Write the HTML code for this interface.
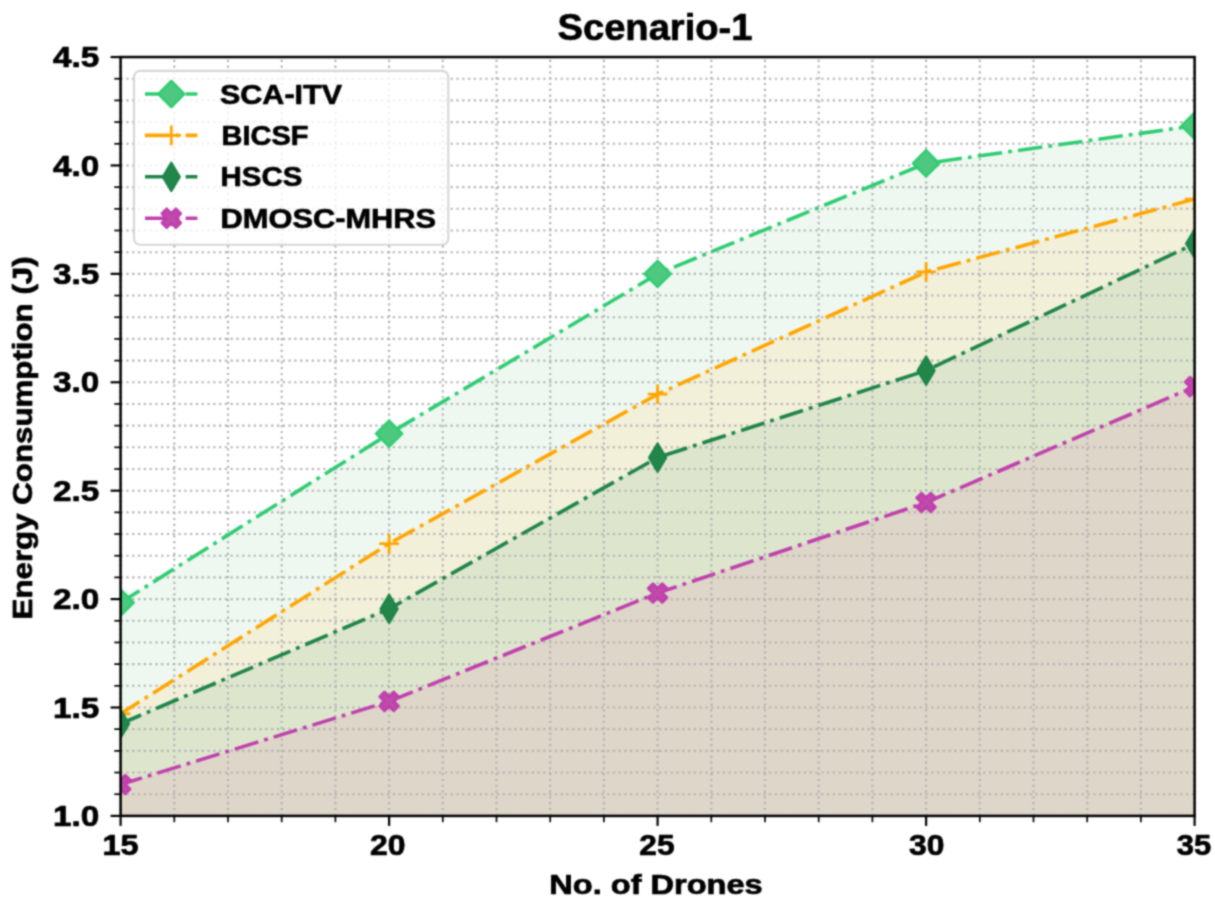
<!DOCTYPE html>
<html><head><meta charset="utf-8"><title>Scenario-1</title>
<style>html,body{margin:0;padding:0;background:#fff;overflow:hidden;}svg{display:block;}</style>
</head><body>
<svg width="1215" height="904" viewBox="0 0 1215 904">
<defs><filter id="bl" filterUnits="userSpaceOnUse" x="0" y="0" width="1215" height="904" color-interpolation-filters="sRGB"><feConvolveMatrix order="5" kernelMatrix="0.00023 0.00332 0.00809 0.00332 0.00023 0.00332 0.04785 0.11640 0.04785 0.00332 0.00809 0.11640 0.28313 0.11640 0.00809 0.00332 0.04785 0.11640 0.04785 0.00332 0.00023 0.00332 0.00809 0.00332 0.00023" edgeMode="duplicate"/></filter><clipPath id="ax"><rect x="120.6" y="57.05" width="1074" height="758.85"/></clipPath></defs>
<g filter="url(#bl)">
<rect width="1215" height="904" fill="#fff"/>
<g clip-path="url(#ax)">
<path d="M120.6,820.9 L120.6,602.55 L389.1,433.66 L657.6,273.86 L926.1,163.29 L1194.6,125.78 L1194.6,820.9 Z" fill="#eef8f0"/>
<path d="M120.6,820.9 L120.6,713.78 L389.1,543.58 L657.6,394.2 L926.1,271.91 L1194.6,199.06 L1194.6,820.9 Z" fill="#f2f0d9"/>
<path d="M120.6,820.9 L120.6,723.75 L389.1,608.84 L657.6,457.51 L926.1,370.56 L1194.6,243.73 L1194.6,820.9 Z" fill="#dde6cd"/>
<path d="M120.6,820.9 L120.6,784.46 L389.1,701.42 L657.6,593.01 L926.1,502.49 L1194.6,386.61 L1194.6,820.9 Z" fill="#ded6c8"/>
</g>
<g stroke="#b2b2b2" stroke-width="2.1" stroke-dasharray="2.2 3.6" fill="none">
<line x1="120.6" y1="815.9" x2="120.6" y2="57.05"/>
<line x1="174.3" y1="815.9" x2="174.3" y2="57.05"/>
<line x1="228" y1="815.9" x2="228" y2="57.05"/>
<line x1="281.7" y1="815.9" x2="281.7" y2="57.05"/>
<line x1="335.4" y1="815.9" x2="335.4" y2="57.05"/>
<line x1="389.1" y1="815.9" x2="389.1" y2="57.05"/>
<line x1="442.8" y1="815.9" x2="442.8" y2="57.05"/>
<line x1="496.5" y1="815.9" x2="496.5" y2="57.05"/>
<line x1="550.2" y1="815.9" x2="550.2" y2="57.05"/>
<line x1="603.9" y1="815.9" x2="603.9" y2="57.05"/>
<line x1="657.6" y1="815.9" x2="657.6" y2="57.05"/>
<line x1="711.3" y1="815.9" x2="711.3" y2="57.05"/>
<line x1="765" y1="815.9" x2="765" y2="57.05"/>
<line x1="818.7" y1="815.9" x2="818.7" y2="57.05"/>
<line x1="872.4" y1="815.9" x2="872.4" y2="57.05"/>
<line x1="926.1" y1="815.9" x2="926.1" y2="57.05"/>
<line x1="979.8" y1="815.9" x2="979.8" y2="57.05"/>
<line x1="1033.5" y1="815.9" x2="1033.5" y2="57.05"/>
<line x1="1087.2" y1="815.9" x2="1087.2" y2="57.05"/>
<line x1="1140.9" y1="815.9" x2="1140.9" y2="57.05"/>
<line x1="1194.6" y1="815.9" x2="1194.6" y2="57.05"/>
<line x1="120.6" y1="815.9" x2="1194.6" y2="815.9" stroke-dasharray="2.2 3.59"/>
<line x1="120.6" y1="794.22" x2="1194.6" y2="794.22" stroke-dasharray="2.2 3.59"/>
<line x1="120.6" y1="772.54" x2="1194.6" y2="772.54" stroke-dasharray="2.2 3.59"/>
<line x1="120.6" y1="750.86" x2="1194.6" y2="750.86" stroke-dasharray="2.2 3.59"/>
<line x1="120.6" y1="729.17" x2="1194.6" y2="729.17" stroke-dasharray="2.2 3.59"/>
<line x1="120.6" y1="707.49" x2="1194.6" y2="707.49" stroke-dasharray="2.2 3.59"/>
<line x1="120.6" y1="685.81" x2="1194.6" y2="685.81" stroke-dasharray="2.2 3.59"/>
<line x1="120.6" y1="664.13" x2="1194.6" y2="664.13" stroke-dasharray="2.2 3.59"/>
<line x1="120.6" y1="642.45" x2="1194.6" y2="642.45" stroke-dasharray="2.2 3.59"/>
<line x1="120.6" y1="620.77" x2="1194.6" y2="620.77" stroke-dasharray="2.2 3.59"/>
<line x1="120.6" y1="599.09" x2="1194.6" y2="599.09" stroke-dasharray="2.2 3.59"/>
<line x1="120.6" y1="577.4" x2="1194.6" y2="577.4" stroke-dasharray="2.2 3.59"/>
<line x1="120.6" y1="555.72" x2="1194.6" y2="555.72" stroke-dasharray="2.2 3.59"/>
<line x1="120.6" y1="534.04" x2="1194.6" y2="534.04" stroke-dasharray="2.2 3.59"/>
<line x1="120.6" y1="512.36" x2="1194.6" y2="512.36" stroke-dasharray="2.2 3.59"/>
<line x1="120.6" y1="490.68" x2="1194.6" y2="490.68" stroke-dasharray="2.2 3.59"/>
<line x1="120.6" y1="469" x2="1194.6" y2="469" stroke-dasharray="2.2 3.59"/>
<line x1="120.6" y1="447.32" x2="1194.6" y2="447.32" stroke-dasharray="2.2 3.59"/>
<line x1="120.6" y1="425.63" x2="1194.6" y2="425.63" stroke-dasharray="2.2 3.59"/>
<line x1="120.6" y1="403.95" x2="1194.6" y2="403.95" stroke-dasharray="2.2 3.59"/>
<line x1="120.6" y1="382.27" x2="1194.6" y2="382.27" stroke-dasharray="2.2 3.59"/>
<line x1="120.6" y1="360.59" x2="1194.6" y2="360.59" stroke-dasharray="2.2 3.59"/>
<line x1="120.6" y1="338.91" x2="1194.6" y2="338.91" stroke-dasharray="2.2 3.59"/>
<line x1="120.6" y1="317.23" x2="1194.6" y2="317.23" stroke-dasharray="2.2 3.59"/>
<line x1="120.6" y1="295.55" x2="1194.6" y2="295.55" stroke-dasharray="2.2 3.59"/>
<line x1="120.6" y1="273.86" x2="1194.6" y2="273.86" stroke-dasharray="2.2 3.59"/>
<line x1="120.6" y1="252.18" x2="1194.6" y2="252.18" stroke-dasharray="2.2 3.59"/>
<line x1="120.6" y1="230.5" x2="1194.6" y2="230.5" stroke-dasharray="2.2 3.59"/>
<line x1="120.6" y1="208.82" x2="1194.6" y2="208.82" stroke-dasharray="2.2 3.59"/>
<line x1="120.6" y1="187.14" x2="1194.6" y2="187.14" stroke-dasharray="2.2 3.59"/>
<line x1="120.6" y1="165.46" x2="1194.6" y2="165.46" stroke-dasharray="2.2 3.59"/>
<line x1="120.6" y1="143.78" x2="1194.6" y2="143.78" stroke-dasharray="2.2 3.59"/>
<line x1="120.6" y1="122.09" x2="1194.6" y2="122.09" stroke-dasharray="2.2 3.59"/>
<line x1="120.6" y1="100.41" x2="1194.6" y2="100.41" stroke-dasharray="2.2 3.59"/>
<line x1="120.6" y1="78.73" x2="1194.6" y2="78.73" stroke-dasharray="2.2 3.59"/>
<line x1="120.6" y1="57.05" x2="1194.6" y2="57.05" stroke-dasharray="2.2 3.59"/>
</g>
<g clip-path="url(#ax)">
<polyline points="120.6,602.55 389.1,433.66 657.6,273.86 926.1,163.29 1194.6,125.78" fill="none" stroke="#2ecc71" stroke-width="3.6" stroke-dasharray="24.51 6.13 3.83 6.13" stroke-dashoffset="2.2" stroke-linejoin="round"/>
<path d="M120.6,589.45 L133.7,602.55 L120.6,615.65 L107.5,602.55 Z" fill="#4cc97e" stroke="#2ecc71" stroke-width="2.4" stroke-linejoin="round"/>
<path d="M389.1,420.56 L402.2,433.66 L389.1,446.76 L376,433.66 Z" fill="#4cc97e" stroke="#2ecc71" stroke-width="2.4" stroke-linejoin="round"/>
<path d="M657.6,260.76 L670.7,273.86 L657.6,286.96 L644.5,273.86 Z" fill="#4cc97e" stroke="#2ecc71" stroke-width="2.4" stroke-linejoin="round"/>
<path d="M926.1,150.19 L939.2,163.29 L926.1,176.39 L913,163.29 Z" fill="#4cc97e" stroke="#2ecc71" stroke-width="2.4" stroke-linejoin="round"/>
<path d="M1194.6,112.68 L1207.7,125.78 L1194.6,138.88 L1181.5,125.78 Z" fill="#4cc97e" stroke="#2ecc71" stroke-width="2.4" stroke-linejoin="round"/>
<polyline points="120.6,713.78 389.1,543.58 657.6,394.2 926.1,271.91 1194.6,199.06" fill="none" stroke="#ffa500" stroke-width="3.6" stroke-dasharray="24.51 6.13 3.83 6.13" stroke-dashoffset="2.2" stroke-linejoin="round"/>
<path d="M110.8,713.78 L130.4,713.78 M120.6,703.98 L120.6,723.58" fill="none" stroke="#ffa500" stroke-width="2.8" stroke-linecap="butt"/>
<path d="M379.3,543.58 L398.9,543.58 M389.1,533.78 L389.1,553.38" fill="none" stroke="#ffa500" stroke-width="2.8" stroke-linecap="butt"/>
<path d="M647.8,394.2 L667.4,394.2 M657.6,384.4 L657.6,404" fill="none" stroke="#ffa500" stroke-width="2.8" stroke-linecap="butt"/>
<path d="M916.3,271.91 L935.9,271.91 M926.1,262.11 L926.1,281.71" fill="none" stroke="#ffa500" stroke-width="2.8" stroke-linecap="butt"/>
<path d="M1184.8,199.06 L1204.4,199.06 M1194.6,189.26 L1194.6,208.86" fill="none" stroke="#ffa500" stroke-width="2.8" stroke-linecap="butt"/>
<polyline points="120.6,723.75 389.1,608.84 657.6,457.51 926.1,370.56 1194.6,243.73" fill="none" stroke="#1e8449" stroke-width="3.6" stroke-dasharray="24.51 6.13 3.83 6.13" stroke-dashoffset="2.2" stroke-linejoin="round"/>
<path d="M120.6,709.75 L129,723.75 L120.6,737.75 L112.2,723.75 Z" fill="#22864a" stroke="#1e8449" stroke-width="2.4" stroke-linejoin="round"/>
<path d="M389.1,594.84 L397.5,608.84 L389.1,622.84 L380.7,608.84 Z" fill="#22864a" stroke="#1e8449" stroke-width="2.4" stroke-linejoin="round"/>
<path d="M657.6,443.51 L666,457.51 L657.6,471.51 L649.2,457.51 Z" fill="#22864a" stroke="#1e8449" stroke-width="2.4" stroke-linejoin="round"/>
<path d="M926.1,356.56 L934.5,370.56 L926.1,384.56 L917.7,370.56 Z" fill="#22864a" stroke="#1e8449" stroke-width="2.4" stroke-linejoin="round"/>
<path d="M1194.6,229.73 L1203,243.73 L1194.6,257.73 L1186.2,243.73 Z" fill="#22864a" stroke="#1e8449" stroke-width="2.4" stroke-linejoin="round"/>
<polyline points="120.6,784.46 389.1,701.42 657.6,593.01 926.1,502.49 1194.6,386.61" fill="none" stroke="#c03fae" stroke-width="3.6" stroke-dasharray="24.51 6.13 3.83 6.13" stroke-dashoffset="2.2" stroke-linejoin="round"/>
<path d="M125.22,775.22 L129.84,779.84 L125.22,784.46 L129.84,789.08 L125.22,793.7 L120.6,789.08 L115.98,793.7 L111.36,789.08 L115.98,784.46 L111.36,779.84 L115.98,775.22 L120.6,779.84 Z" fill="#bf4ba9" stroke="#c03fae" stroke-width="3.0" stroke-linejoin="round"/>
<path d="M393.72,692.18 L398.34,696.8 L393.72,701.42 L398.34,706.04 L393.72,710.66 L389.1,706.04 L384.48,710.66 L379.86,706.04 L384.48,701.42 L379.86,696.8 L384.48,692.18 L389.1,696.8 Z" fill="#bf4ba9" stroke="#c03fae" stroke-width="3.0" stroke-linejoin="round"/>
<path d="M662.22,583.78 L666.84,588.4 L662.22,593.01 L666.84,597.63 L662.22,602.25 L657.6,597.63 L652.98,602.25 L648.36,597.63 L652.98,593.01 L648.36,588.4 L652.98,583.78 L657.6,588.4 Z" fill="#bf4ba9" stroke="#c03fae" stroke-width="3.0" stroke-linejoin="round"/>
<path d="M930.72,493.26 L935.34,497.88 L930.72,502.49 L935.34,507.11 L930.72,511.73 L926.1,507.11 L921.48,511.73 L916.86,507.11 L921.48,502.49 L916.86,497.88 L921.48,493.26 L926.1,497.88 Z" fill="#bf4ba9" stroke="#c03fae" stroke-width="3.0" stroke-linejoin="round"/>
<path d="M1199.22,377.37 L1203.84,381.99 L1199.22,386.61 L1203.84,391.23 L1199.22,395.85 L1194.6,391.23 L1189.98,395.85 L1185.36,391.23 L1189.98,386.61 L1185.36,381.99 L1189.98,377.37 L1194.6,381.99 Z" fill="#bf4ba9" stroke="#c03fae" stroke-width="3.0" stroke-linejoin="round"/>
</g>
<rect x="120.6" y="57.05" width="1074" height="758.85" fill="none" stroke="#000" stroke-width="2.5" stroke-linejoin="miter"/>
<g stroke="#000" fill="none">
<line x1="120.6" y1="815.9" x2="120.6" y2="825.9" stroke-width="2.2"/>
<line x1="174.3" y1="815.9" x2="174.3" y2="822.2" stroke-width="1.7"/>
<line x1="228" y1="815.9" x2="228" y2="822.2" stroke-width="1.7"/>
<line x1="281.7" y1="815.9" x2="281.7" y2="822.2" stroke-width="1.7"/>
<line x1="335.4" y1="815.9" x2="335.4" y2="822.2" stroke-width="1.7"/>
<line x1="389.1" y1="815.9" x2="389.1" y2="825.9" stroke-width="2.2"/>
<line x1="442.8" y1="815.9" x2="442.8" y2="822.2" stroke-width="1.7"/>
<line x1="496.5" y1="815.9" x2="496.5" y2="822.2" stroke-width="1.7"/>
<line x1="550.2" y1="815.9" x2="550.2" y2="822.2" stroke-width="1.7"/>
<line x1="603.9" y1="815.9" x2="603.9" y2="822.2" stroke-width="1.7"/>
<line x1="657.6" y1="815.9" x2="657.6" y2="825.9" stroke-width="2.2"/>
<line x1="711.3" y1="815.9" x2="711.3" y2="822.2" stroke-width="1.7"/>
<line x1="765" y1="815.9" x2="765" y2="822.2" stroke-width="1.7"/>
<line x1="818.7" y1="815.9" x2="818.7" y2="822.2" stroke-width="1.7"/>
<line x1="872.4" y1="815.9" x2="872.4" y2="822.2" stroke-width="1.7"/>
<line x1="926.1" y1="815.9" x2="926.1" y2="825.9" stroke-width="2.2"/>
<line x1="979.8" y1="815.9" x2="979.8" y2="822.2" stroke-width="1.7"/>
<line x1="1033.5" y1="815.9" x2="1033.5" y2="822.2" stroke-width="1.7"/>
<line x1="1087.2" y1="815.9" x2="1087.2" y2="822.2" stroke-width="1.7"/>
<line x1="1140.9" y1="815.9" x2="1140.9" y2="822.2" stroke-width="1.7"/>
<line x1="1194.6" y1="815.9" x2="1194.6" y2="825.9" stroke-width="2.2"/>
<line x1="110.6" y1="815.9" x2="120.6" y2="815.9" stroke-width="2.2"/>
<line x1="114.3" y1="794.22" x2="120.6" y2="794.22" stroke-width="1.7"/>
<line x1="114.3" y1="772.54" x2="120.6" y2="772.54" stroke-width="1.7"/>
<line x1="114.3" y1="750.86" x2="120.6" y2="750.86" stroke-width="1.7"/>
<line x1="114.3" y1="729.17" x2="120.6" y2="729.17" stroke-width="1.7"/>
<line x1="110.6" y1="707.49" x2="120.6" y2="707.49" stroke-width="2.2"/>
<line x1="114.3" y1="685.81" x2="120.6" y2="685.81" stroke-width="1.7"/>
<line x1="114.3" y1="664.13" x2="120.6" y2="664.13" stroke-width="1.7"/>
<line x1="114.3" y1="642.45" x2="120.6" y2="642.45" stroke-width="1.7"/>
<line x1="114.3" y1="620.77" x2="120.6" y2="620.77" stroke-width="1.7"/>
<line x1="110.6" y1="599.09" x2="120.6" y2="599.09" stroke-width="2.2"/>
<line x1="114.3" y1="577.4" x2="120.6" y2="577.4" stroke-width="1.7"/>
<line x1="114.3" y1="555.72" x2="120.6" y2="555.72" stroke-width="1.7"/>
<line x1="114.3" y1="534.04" x2="120.6" y2="534.04" stroke-width="1.7"/>
<line x1="114.3" y1="512.36" x2="120.6" y2="512.36" stroke-width="1.7"/>
<line x1="110.6" y1="490.68" x2="120.6" y2="490.68" stroke-width="2.2"/>
<line x1="114.3" y1="469" x2="120.6" y2="469" stroke-width="1.7"/>
<line x1="114.3" y1="447.32" x2="120.6" y2="447.32" stroke-width="1.7"/>
<line x1="114.3" y1="425.63" x2="120.6" y2="425.63" stroke-width="1.7"/>
<line x1="114.3" y1="403.95" x2="120.6" y2="403.95" stroke-width="1.7"/>
<line x1="110.6" y1="382.27" x2="120.6" y2="382.27" stroke-width="2.2"/>
<line x1="114.3" y1="360.59" x2="120.6" y2="360.59" stroke-width="1.7"/>
<line x1="114.3" y1="338.91" x2="120.6" y2="338.91" stroke-width="1.7"/>
<line x1="114.3" y1="317.23" x2="120.6" y2="317.23" stroke-width="1.7"/>
<line x1="114.3" y1="295.55" x2="120.6" y2="295.55" stroke-width="1.7"/>
<line x1="110.6" y1="273.86" x2="120.6" y2="273.86" stroke-width="2.2"/>
<line x1="114.3" y1="252.18" x2="120.6" y2="252.18" stroke-width="1.7"/>
<line x1="114.3" y1="230.5" x2="120.6" y2="230.5" stroke-width="1.7"/>
<line x1="114.3" y1="208.82" x2="120.6" y2="208.82" stroke-width="1.7"/>
<line x1="114.3" y1="187.14" x2="120.6" y2="187.14" stroke-width="1.7"/>
<line x1="110.6" y1="165.46" x2="120.6" y2="165.46" stroke-width="2.2"/>
<line x1="114.3" y1="143.78" x2="120.6" y2="143.78" stroke-width="1.7"/>
<line x1="114.3" y1="122.09" x2="120.6" y2="122.09" stroke-width="1.7"/>
<line x1="114.3" y1="100.41" x2="120.6" y2="100.41" stroke-width="1.7"/>
<line x1="114.3" y1="78.73" x2="120.6" y2="78.73" stroke-width="1.7"/>
<line x1="110.6" y1="57.05" x2="120.6" y2="57.05" stroke-width="2.2"/>
</g>
<g font-family="&quot;Liberation Sans&quot;, sans-serif" font-weight="bold" stroke="#000" stroke-width="0.7" stroke-linejoin="round" fill="#000">
<text x="99.3" y="826" font-size="28.6" text-anchor="end" textLength="46.3" lengthAdjust="spacingAndGlyphs">1.0</text>
<text x="99.3" y="717.59" font-size="28.6" text-anchor="end" textLength="46.3" lengthAdjust="spacingAndGlyphs">1.5</text>
<text x="99.3" y="609.19" font-size="28.6" text-anchor="end" textLength="46.3" lengthAdjust="spacingAndGlyphs">2.0</text>
<text x="99.3" y="500.78" font-size="28.6" text-anchor="end" textLength="46.3" lengthAdjust="spacingAndGlyphs">2.5</text>
<text x="99.3" y="392.37" font-size="28.6" text-anchor="end" textLength="46.3" lengthAdjust="spacingAndGlyphs">3.0</text>
<text x="99.3" y="283.96" font-size="28.6" text-anchor="end" textLength="46.3" lengthAdjust="spacingAndGlyphs">3.5</text>
<text x="99.3" y="175.56" font-size="28.6" text-anchor="end" textLength="46.3" lengthAdjust="spacingAndGlyphs">4.0</text>
<text x="99.3" y="67.15" font-size="28.6" text-anchor="end" textLength="46.3" lengthAdjust="spacingAndGlyphs">4.5</text>
<text x="120.4" y="854.5" font-size="28.6" text-anchor="middle" textLength="36.0" lengthAdjust="spacingAndGlyphs">15</text>
<text x="387.75" y="854.5" font-size="28.6" text-anchor="middle" textLength="35.5" lengthAdjust="spacingAndGlyphs">20</text>
<text x="656.95" y="854.5" font-size="28.6" text-anchor="middle" textLength="35.2" lengthAdjust="spacingAndGlyphs">25</text>
<text x="926.65" y="854.5" font-size="28.6" text-anchor="middle" textLength="35.4" lengthAdjust="spacingAndGlyphs">30</text>
<text x="1193.95" y="854.5" font-size="28.6" text-anchor="middle" textLength="34.4" lengthAdjust="spacingAndGlyphs">35</text>
<text x="656" y="894" font-size="27" text-anchor="middle" textLength="213.5" lengthAdjust="spacingAndGlyphs">No. of Drones</text>
<text transform="translate(32.3,437.9) rotate(-90)" x="0" y="0" font-size="27.2" text-anchor="middle" textLength="363" lengthAdjust="spacingAndGlyphs">Energy Consumption (J)</text>
<text x="655" y="39.8" font-size="37.2" text-anchor="middle" textLength="195" lengthAdjust="spacingAndGlyphs">Scenario-1</text>
</g>
<rect x="134" y="70.9" width="314.3" height="173.8" rx="6" ry="6" fill="#fff" fill-opacity="0.8" stroke="#cccccc" stroke-opacity="0.8" stroke-width="2.1"/>
<line x1="145.0" y1="94.0" x2="197.4" y2="94.0" stroke="#2ecc71" stroke-width="3.6" stroke-dasharray="24.51 6.13 3.83 6.13"/>
<path d="M171.3,80.9 L184.4,94 L171.3,107.1 L158.2,94 Z" fill="#4cc97e" stroke="#2ecc71" stroke-width="2.4" stroke-linejoin="round"/>
<text x="220" y="103.6" font-family="&quot;Liberation Sans&quot;, sans-serif" font-weight="bold" stroke="#000" stroke-width="0.7" stroke-linejoin="round" font-size="28.4" textLength="122" lengthAdjust="spacingAndGlyphs">SCA-ITV</text>
<line x1="145.0" y1="135.4" x2="197.4" y2="135.4" stroke="#ffa500" stroke-width="3.6" stroke-dasharray="24.51 6.13 3.83 6.13"/>
<path d="M161.5,135.4 L181.1,135.4 M171.3,125.6 L171.3,145.2" fill="none" stroke="#ffa500" stroke-width="2.8" stroke-linecap="butt"/>
<text x="221.6" y="145" font-family="&quot;Liberation Sans&quot;, sans-serif" font-weight="bold" stroke="#000" stroke-width="0.7" stroke-linejoin="round" font-size="28.4" textLength="87" lengthAdjust="spacingAndGlyphs">BICSF</text>
<line x1="145.0" y1="176.8" x2="197.4" y2="176.8" stroke="#1e8449" stroke-width="3.6" stroke-dasharray="24.51 6.13 3.83 6.13"/>
<path d="M171.3,162.8 L179.7,176.8 L171.3,190.8 L162.9,176.8 Z" fill="#22864a" stroke="#1e8449" stroke-width="2.4" stroke-linejoin="round"/>
<text x="220.6" y="186.4" font-family="&quot;Liberation Sans&quot;, sans-serif" font-weight="bold" stroke="#000" stroke-width="0.7" stroke-linejoin="round" font-size="28.4" textLength="81.8" lengthAdjust="spacingAndGlyphs">HSCS</text>
<line x1="145.0" y1="218.2" x2="197.4" y2="218.2" stroke="#c03fae" stroke-width="3.6" stroke-dasharray="24.51 6.13 3.83 6.13"/>
<path d="M175.92,208.96 L180.54,213.58 L175.92,218.2 L180.54,222.82 L175.92,227.44 L171.3,222.82 L166.68,227.44 L162.06,222.82 L166.68,218.2 L162.06,213.58 L166.68,208.96 L171.3,213.58 Z" fill="#bf4ba9" stroke="#c03fae" stroke-width="3.0" stroke-linejoin="round"/>
<text x="220.6" y="227.8" font-family="&quot;Liberation Sans&quot;, sans-serif" font-weight="bold" stroke="#000" stroke-width="0.7" stroke-linejoin="round" font-size="28.4" textLength="215.5" lengthAdjust="spacingAndGlyphs">DMOSC-MHRS</text>
</g>
</svg>
</body></html>
